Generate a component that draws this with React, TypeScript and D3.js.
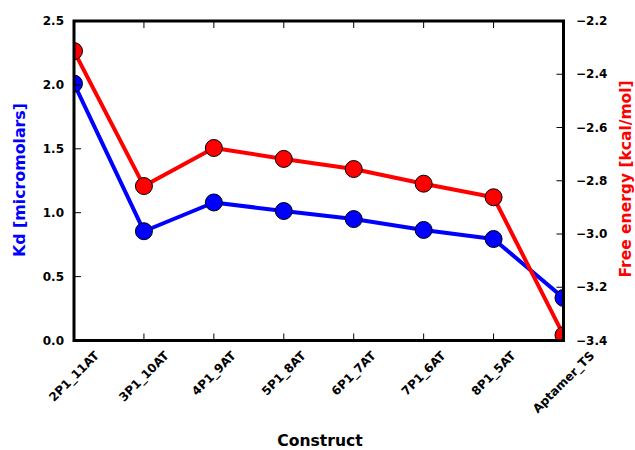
import React from "react";
import * as d3 from "d3";

const categories = ["2P1_11AT", "3P1_10AT", "4P1_9AT", "5P1_8AT", "6P1_7AT", "7P1_6AT", "8P1_5AT", "Aptamer_TS"];
const kdValues = [2.01, 0.855, 1.08, 1.013, 0.95, 0.865, 0.794, 0.333];
const energyValues = [-2.313, -2.82, -2.677, -2.718, -2.756, -2.811, -2.862, -3.38];
const leftTicks = [0.0, 0.5, 1.0, 1.5, 2.0, 2.5];
const rightTicks = [-3.4, -3.2, -3.0, -2.8, -2.6, -2.4, -2.2];

const W = 635, H = 450;
const L = 74, R = 563.5, T = 21, B = 340.5;
const font = "DejaVu Sans, sans-serif";

function measure(s: string, size: number): number {
  try {
    const c = document.createElement("canvas").getContext("2d");
    if (c) {
      c.font = `bold ${size}px "DejaVu Sans"`;
      return c.measureText(s).width;
    }
  } catch (e) {}
  return s.length * size * 0.7;
}

export default function App() {
  const x = d3.scalePoint<string>().domain(categories).range([L, R]);
  const yL = d3.scaleLinear().domain([0, 2.5]).range([B, T]);
  const yR = d3.scaleLinear().domain([-3.4, -2.2]).range([B, T]);
  const lineK = d3.line<number>().x((_, i) => x(categories[i])!).y((d) => yL(d));
  const lineE = d3.line<number>().x((_, i) => x(categories[i])!).y((d) => yR(d));
  const fmtR = (v: number) => (v < 0 ? "\u2212" + Math.abs(v).toFixed(1) : v.toFixed(1));
  const xfs = 12;
  return (
    <svg width={W} height={H} style={{ position: "absolute", left: 0, top: 0, background: "#fff" }} fontFamily={font}>
      <defs>
        <clipPath id="plot">
          <rect x={L} y={T} width={R - L} height={B - T} />
        </clipPath>
      </defs>
      <g clipPath="url(#plot)">
        <path d={lineK(kdValues)!} fill="none" stroke="#0000ff" strokeWidth={4} strokeLinejoin="round" />
        {kdValues.map((v, i) => (
          <circle key={"k" + i} cx={x(categories[i])} cy={yL(v)} r={8.5} fill="#0000ff" stroke="#000" strokeWidth={1} />
        ))}
        <path d={lineE(energyValues)!} fill="none" stroke="#ff0000" strokeWidth={4} strokeLinejoin="round" />
        {energyValues.map((v, i) => (
          <circle key={"e" + i} cx={x(categories[i])} cy={yR(v)} r={8.5} fill="#ff0000" stroke="#000" strokeWidth={1} />
        ))}
      </g>
      {leftTicks.map((t) => (
        <g key={"lt" + t}>
          <line x1={L} x2={L + 7} y1={yL(t)} y2={yL(t)} stroke="#000" strokeWidth={1} />
          <text x={64} y={yL(t)} textAnchor="end" dominantBaseline="central" fontSize={12} fontWeight="bold">{t.toFixed(1)}</text>
        </g>
      ))}
      {rightTicks.map((t) => (
        <g key={"rt" + t}>
          <line x1={R - 7} x2={R} y1={yR(t)} y2={yR(t)} stroke="#000" strokeWidth={1} />
          <text x={576} y={yR(t)} textAnchor="start" dominantBaseline="central" fontSize={12} fontWeight="bold">{fmtR(t)}</text>
        </g>
      ))}
      {categories.map((c) => {
        const len = measure(c, xfs);
        const half = (len + 10) / (2 * Math.SQRT2);
        const cx = x(c)!;
        const cy = 350 + half;
        return (
          <g key={"xt" + c}>
            <line x1={cx} x2={cx} y1={B} y2={B - 7} stroke="#000" strokeWidth={1} />
            <line x1={cx} x2={cx} y1={T} y2={T + 7} stroke="#000" strokeWidth={1} />
            <text transform={`translate(${cx},${cy}) rotate(-45)`} textAnchor="middle" dominantBaseline="central" fontSize={xfs} fontWeight="bold">{c}</text>
          </g>
        );
      })}
      <rect x={L} y={T} width={R - L} height={B - T} fill="none" stroke="#000" strokeWidth={3} />
      <text transform={`translate(19,180) rotate(-90)`} textAnchor="middle" dominantBaseline="central" fontSize={15.8} fontWeight="bold" fill="#0000ff">Kd [micromolars]</text>
      <text transform={`translate(626,179) rotate(-90)`} textAnchor="middle" dominantBaseline="central" fontSize={15.5} fontWeight="bold" fill="#ff0000">Free energy [kcal/mol]</text>
      <text x={320} y={446} textAnchor="middle" fontSize={15.6} fontWeight="bold">Construct</text>
    </svg>
  );
}
